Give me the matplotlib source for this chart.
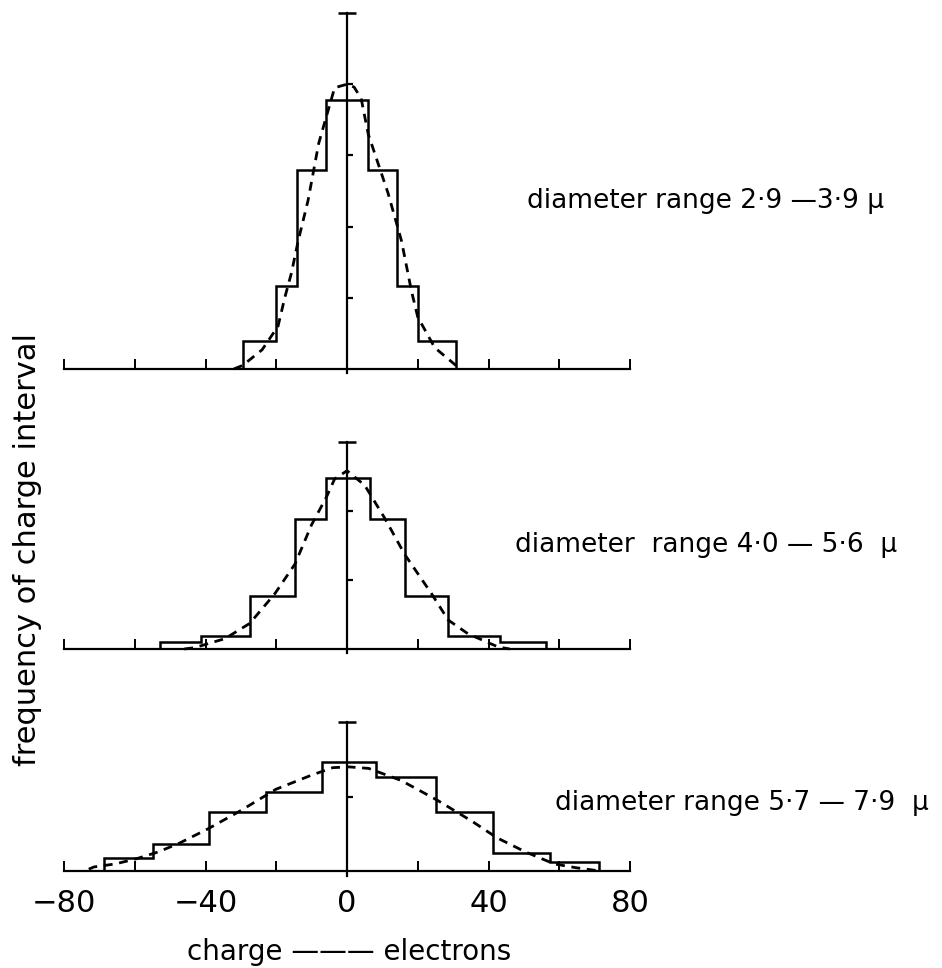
import matplotlib
matplotlib.use("Agg")
import matplotlib.pyplot as plt

# ---- data ----
top_edges = [-29.5, -20.2, -14.0, -5.8, 5.8, 14.0, 20.2, 30.9]
top_counts = [0.40, 1.17, 2.80, 3.78, 2.80, 1.17, 0.40]
top_curve_x = [-32, -29.5, -24, -19.5, -17.6, -15.7, -13.8, -11, -8, -3.5, 0, 2, 4, 6, 11.6, 15.4, 18.2, 20, 24.8, 32]
top_curve_y = [0, 0.05, 0.27, 0.6, 1.0, 1.35, 1.8, 2.37, 3.17, 3.95, 4.0, 3.96, 3.8, 3.3, 2.47, 1.8, 1.1, 0.73, 0.3, 0]

mid_edges = [-52.9, -41.3, -27.5, -14.7, -6.0, 6.4, 16.5, 28.6, 43.2, 56.2]
mid_counts = [0.10, 0.19, 0.77, 1.88, 2.47, 1.88, 0.77, 0.19, 0.10]
mid_curve_x = [-46, -43, -34.5, -27.5, -20.4, -14.7, -10, -5.8, -3.5, 0, 5, 10.7, 16.3, 23.9, 28.6, 34.2, 42.7, 46]
mid_curve_y = [0, 0.02, 0.15, 0.37, 0.8, 1.23, 1.8, 2.2, 2.46, 2.58, 2.37, 1.89, 1.37, 0.8, 0.42, 0.22, 0.03, 0]

bot_edges = [-68.8, -54.7, -39.1, -22.9, -7.0, 8.3, 25.3, 41.4, 57.4, 71.2]
bot_counts = [0.18, 0.37, 0.79, 1.07, 1.47, 1.26, 0.80, 0.25, 0.12]
bot_curve_x = [-73, -71.5, -65.5, -59.5, -53.4, -47.3, -39.3, -30.2, -20.1, -10, -4, 0.6, 6.1, 15.2, 25.3, 35.4, 42.4, 50.5, 58.6, 64.6, 70.7]
bot_curve_y = [0.03, 0.06, 0.1, 0.17, 0.26, 0.38, 0.57, 0.81, 1.1, 1.29, 1.39, 1.40, 1.38, 1.22, 0.96, 0.67, 0.45, 0.26, 0.1, 0.05, 0.01]

panel_labels = ["diameter range 2·9 —3·9 μ",
                "diameter  range 4·0 — 5·6  μ",
                "diameter range 5·7 — 7·9  μ"]
panel_caps = [5, 3, 2]
xticks = [-80, -60, -40, -20, 0, 20, 40, 60, 80]
xtick_labels = ["−80", "", "−40", "", "0", "", "40", "", "80"]
xlabel = "charge ——— electrons"
ylabel = "frequency of charge interval"

plt.rcParams['font.family'] = ['DejaVu Sans']

W, H = 942, 968
fig = plt.figure(figsize=(W / 100, H / 100), dpi=100)

def fx(px):
    return px / W

def fy(py):
    return 1 - py / H

# axes positions in pixels: (left, right, baseline_y, cap_y)
boxes = [(64, 630, 369, 13), (64, 630, 649, 441.7), (64, 630, 871.4, 722.1)]
datasets = [(top_edges, top_counts, top_curve_x, top_curve_y),
            (mid_edges, mid_counts, mid_curve_x, mid_curve_y),
            (bot_edges, bot_counts, bot_curve_x, bot_curve_y)]
label_pos = [(527, 201), (515, 545), (555, 803)]

for i, ((l, r, b, t), (edges, counts, cx, cy), cap) in enumerate(zip(boxes, datasets, panel_caps)):
    ax = fig.add_axes([fx(l), fy(b), fx(r) - fx(l), fy(t) - fy(b)])
    ax.set_xlim(-80, 80)
    ax.set_ylim(0, cap)
    ax.set_facecolor('none')
    ax.stairs(counts, edges, color='black', lw=1.8, baseline=0, clip_on=False)
    ax.plot(cx, cy, color='black', lw=2.0, ls=(0, (3.2, 2.4)), clip_on=False)

    for s in ['top', 'right']:
        ax.spines[s].set_visible(False)
    ax.spines['left'].set_position(('data', 0))
    ax.spines['bottom'].set_position(('data', 0))
    ax.spines['left'].set_bounds(-0.06, cap)
    ax.spines['bottom'].set_bounds(-80, 80)
    ax.spines['left'].set_linewidth(1.6)
    ax.spines['bottom'].set_linewidth(1.6)

    ax.set_yticks(list(range(1, cap)))
    ax.set_yticklabels([])
    ax.tick_params(axis='y', which='major', direction='in', length=4.5, width=1.6)
    ax.set_yticks([cap], minor=True)
    ax.tick_params(axis='y', which='minor', direction='inout', length=13, width=1.8)

    ax.set_xticks([v for v in xticks])
    ax.set_xticks([-80, 80], minor=True)
    ax.tick_params(axis='x', which='major', direction='in', length=7, width=1.4, pad=13, labelsize=22)
    ax.tick_params(axis='x', which='minor', direction='inout', length=14, width=1.6)
    if i == 2:
        ax.set_xticklabels(xtick_labels)
    else:
        ax.set_xticklabels([])

    fig.text(fx(label_pos[i][0]), fy(label_pos[i][1]), panel_labels[i],
             fontsize=19, ha='left', va='center')

fig.text(fx(349), fy(952), xlabel, fontsize=20, ha='center', va='center')
fig.text(fx(28), fy(550), ylabel, fontsize=22, ha='center', va='center', rotation=90)

fig.savefig("out.png", dpi=100)
